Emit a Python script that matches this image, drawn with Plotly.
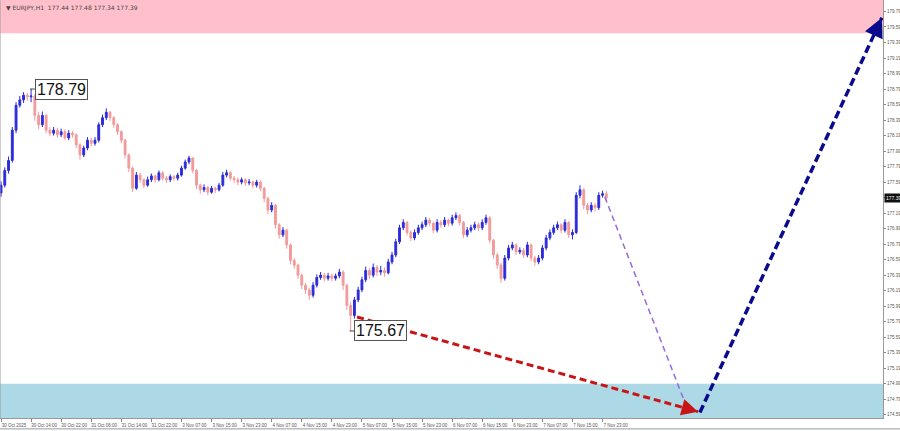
import plotly.graph_objects as go

# EURJPY H1 closes, highs, lows
first_open = 177.45
closes = [
    177.55, 177.74, 177.87, 178.26, 178.58, 178.65, 178.71, 178.69, 178.70, 178.45,
    178.33, 178.45, 178.26, 178.22, 178.26, 178.20, 178.24, 178.16, 178.22, 178.20,
    178.07, 177.94, 178.03, 178.13, 178.09, 178.13, 178.33, 178.42, 178.49, 178.42,
    178.33, 178.24, 178.13, 177.94, 177.77, 177.51, 177.68, 177.62, 177.55, 177.62,
    177.67, 177.62, 177.71, 177.64, 177.62, 177.66, 177.64, 177.68, 177.77, 177.85,
    177.90, 177.74, 177.55, 177.49, 177.52, 177.46, 177.51, 177.49, 177.55, 177.68,
    177.71, 177.64, 177.62, 177.59, 177.62, 177.58, 177.59, 177.55, 177.59, 177.51,
    177.38, 177.23, 177.29, 177.04, 176.91, 176.97, 176.78, 176.58, 176.52, 176.39,
    176.26, 176.20, 176.13, 176.26, 176.36, 176.39, 176.35, 176.38, 176.35, 176.38,
    176.43, 176.26, 176.00, 175.87, 176.07, 176.20, 176.33, 176.45, 176.39, 176.49,
    176.43, 176.45, 176.42, 176.56, 176.65, 176.82, 177.00, 177.07, 176.94, 176.87,
    176.94, 177.00, 177.04, 177.10, 177.06, 176.97, 177.07, 177.04, 177.10, 177.06,
    177.13, 177.16, 177.07, 176.91, 176.97, 177.00, 177.04, 177.00, 177.07, 177.13,
    176.84, 176.65, 176.52, 176.35, 176.61, 176.74, 176.78, 176.69, 176.71, 176.65,
    176.78, 176.61, 176.56, 176.61, 176.74, 176.87, 176.94, 177.00, 177.04, 176.97,
    177.07, 176.91, 176.94, 177.42, 177.49, 177.29, 177.23, 177.29, 177.26, 177.42,
    177.44, 177.39,
]
highs = [
    177.60, 177.78, 177.92, 178.30, 178.62, 178.70, 178.75, 178.74, 178.79, 178.72,
    178.50, 178.50, 178.47, 178.30, 178.30, 178.29, 178.28, 178.27, 178.26, 178.25,
    178.22, 178.09, 178.06, 178.17, 178.16, 178.17, 178.36, 178.46, 178.54, 178.51,
    178.44, 178.35, 178.26, 178.15, 177.96, 177.79, 177.72, 177.71, 177.64, 177.66,
    177.70, 177.69, 177.74, 177.73, 177.67, 177.69, 177.68, 177.71, 177.80, 177.88,
    177.93, 177.91, 177.76, 177.57, 177.56, 177.54, 177.54, 177.53, 177.58, 177.72,
    177.75, 177.73, 177.67, 177.65, 177.65, 177.64, 177.63, 177.61, 177.62, 177.61,
    177.53, 177.40, 177.33, 177.31, 177.06, 177.01, 176.99, 176.80, 176.61, 176.54,
    176.41, 176.29, 176.23, 176.30, 176.40, 176.43, 176.42, 176.42, 176.41, 176.41,
    176.47, 176.45, 176.28, 176.04, 176.11, 176.24, 176.37, 176.50, 176.48, 176.54,
    176.52, 176.51, 176.49, 176.60, 176.69, 176.86, 177.04, 177.11, 177.09, 176.97,
    176.98, 177.04, 177.08, 177.14, 177.13, 177.08, 177.11, 177.10, 177.14, 177.12,
    177.17, 177.20, 177.18, 177.09, 177.01, 177.04, 177.08, 177.07, 177.11, 177.17,
    177.15, 176.86, 176.68, 176.55, 176.65, 176.78, 176.82, 176.80, 176.75, 176.74,
    176.82, 176.80, 176.64, 176.65, 176.78, 176.91, 176.98, 177.04, 177.08, 177.06,
    177.11, 177.09, 176.98, 177.46, 177.55, 177.51, 177.32, 177.33, 177.32, 177.46,
    177.48, 177.48,
]
lows = [
    177.40, 177.52, 177.70, 177.84, 178.22, 178.55, 178.61, 178.64, 178.62, 178.38,
    178.27, 178.30, 178.22, 178.18, 178.19, 178.16, 178.17, 178.13, 178.13, 178.16,
    178.03, 177.88, 177.91, 178.00, 178.05, 178.06, 178.10, 178.30, 178.39, 178.38,
    178.29, 178.20, 178.09, 177.90, 177.72, 177.46, 177.49, 177.58, 177.51, 177.53,
    177.59, 177.58, 177.60, 177.61, 177.58, 177.59, 177.61, 177.61, 177.66, 177.75,
    177.82, 177.70, 177.50, 177.44, 177.46, 177.42, 177.44, 177.45, 177.47, 177.53,
    177.65, 177.61, 177.58, 177.55, 177.56, 177.54, 177.55, 177.51, 177.52, 177.47,
    177.33, 177.18, 177.20, 176.99, 176.86, 176.88, 176.73, 176.53, 176.47, 176.34,
    176.21, 176.15, 176.07, 176.10, 176.23, 176.33, 176.31, 176.32, 176.31, 176.32,
    176.35, 176.20, 175.94, 175.67, 175.83, 176.04, 176.17, 176.30, 176.34, 176.36,
    176.38, 176.39, 176.37, 176.40, 176.53, 176.62, 176.79, 176.97, 176.90, 176.83,
    176.84, 176.91, 176.97, 177.01, 177.02, 176.93, 176.94, 177.00, 177.01, 177.02,
    177.03, 177.10, 177.03, 176.87, 176.88, 176.94, 176.97, 176.96, 176.97, 177.04,
    176.80, 176.60, 176.47, 176.29, 176.32, 176.58, 176.71, 176.65, 176.66, 176.61,
    176.62, 176.57, 176.51, 176.53, 176.58, 176.71, 176.84, 176.91, 176.97, 176.93,
    176.94, 176.87, 176.85, 176.92, 177.38, 177.24, 177.18, 177.20, 177.21, 177.23,
    177.39, 177.34,
]
opens = [first_open] + closes[:-1]
bars = list(range(len(closes)))

time_labels = [
    "30 Oct 2025", "30 Oct 14:00", "30 Oct 22:00", "31 Oct 06:00", "31 Oct 14:00",
    "31 Oct 22:00", "3 Nov 07:00", "3 Nov 15:00", "3 Nov 23:00", "4 Nov 07:00",
    "4 Nov 15:00", "4 Nov 23:00", "5 Nov 07:00", "5 Nov 15:00", "5 Nov 23:00",
    "6 Nov 07:00", "6 Nov 15:00", "6 Nov 23:00", "7 Nov 07:00", "7 Nov 15:00",
    "7 Nov 23:00",
]
time_label_bars = [8 * k for k in range(len(time_labels))]

price_ticks = [
    174.59, 174.79, 174.99, 175.19, 175.39, 175.59, 175.79, 175.99, 176.19, 176.39,
    176.59, 176.79, 176.99, 177.19, 177.39, 177.59, 177.79, 177.99, 178.19, 178.39,
    178.59, 178.79, 178.99, 179.19, 179.39, 179.59, 179.79,
]

y_range = [174.548, 179.938]
x_range = [-0.27, 234.6]

resistance_zone = [179.51, 179.938]
support_zone = [174.548, 174.99]

wave_high = (8, 178.79)
wave_low = (93, 175.67)
last_price = 177.39
header = "\u25bc EURJPY,H1  177.44 177.48 177.34 177.39"

# forecast paths: (bar, price)
red_path = [(94.7, 175.85), (185.4, 174.63)]
purple_path = [(160.6, 177.40), (182.7, 174.65)]
navy_path = [(185.9, 174.62), (234.3, 179.71)]

fig = go.Figure()

fig.add_trace(go.Candlestick(
    x=bars, open=opens, high=highs, low=lows, close=closes,
    increasing=dict(line=dict(color="#2b2bd9", width=1), fillcolor="#2b2bd9"),
    decreasing=dict(line=dict(color="#f29a9a", width=1), fillcolor="#f29a9a"),
    whiskerwidth=0,
    showlegend=False,
))

# zones
fig.add_shape(type="rect", xref="paper", yref="y", x0=0, x1=1,
              y0=resistance_zone[0], y1=resistance_zone[1],
              fillcolor="#ffc0cb", line_width=0, layer="below")
fig.add_shape(type="rect", xref="paper", yref="y", x0=0, x1=1,
              y0=support_zone[0], y1=support_zone[1],
              fillcolor="#add8e6", line_width=0, layer="below")


def dashed_arrow(path, color, width, dash, head=True):
    (x0, y0), (x1, y1) = path
    fig.add_shape(type="line", xref="x", yref="y", x0=x0, y0=y0, x1=x1, y1=y1,
                  line=dict(color=color, width=width, dash=dash))
    if head:
        t = 0.96
        fig.add_annotation(x=x1, y=y1, ax=x0 + (x1 - x0) * t, ay=y0 + (y1 - y0) * t,
                           xref="x", yref="y", axref="x", ayref="y", text="",
                           showarrow=True, arrowhead=2, arrowsize=1.1,
                           arrowwidth=width, arrowcolor=color, standoff=0)


dashed_arrow(red_path, "#c81414", 3, "7px,4px")
dashed_arrow(purple_path, "#9a6ad8", 1.5, "6px,4px", head=False)
dashed_arrow(navy_path, "#0a0a8c", 3.5, "8px,4px")

# wave labels
for (bx, price) in [wave_high, wave_low]:
    fig.add_shape(type="line", xref="x", yref="y", x0=bx - 0.3, x1=bx + 1.0,
                  y0=price, y1=price, line=dict(color="#444", width=1))
    fig.add_annotation(x=bx + 1.0, y=price, xref="x", yref="y", text=f"{price:.2f}",
                       showarrow=False, xanchor="left", yanchor="middle",
                       font=dict(family="Liberation Sans", size=16, color="#111"),
                       bgcolor="white", bordercolor="#555", borderwidth=1, borderpad=1)

# current price tag
fig.add_annotation(x=1, y=last_price, xref="paper", yref="y", text=f"{last_price:.2f}",
                   showarrow=False, xanchor="left", yanchor="middle", xshift=1,
                   font=dict(family="Liberation Sans", size=5, color="white"),
                   bgcolor="#111", borderpad=1)

fig.add_annotation(x=0.004, y=0.995, xref="paper", yref="paper", text=header,
                   showarrow=False, xanchor="left", yanchor="top",
                   font=dict(family="DejaVu Sans", size=6, color="#444"))

# frame lines
fig.add_shape(type="line", xref="paper", yref="paper", x0=0, x1=0, y0=0, y1=1,
              line=dict(color="#999", width=1))
fig.add_shape(type="line", xref="paper", yref="paper", x0=0, x1=1.02, y0=-0.026, y1=-0.026,
              line=dict(color="#999", width=1))

fig.update_layout(
    width=900, height=431,
    margin=dict(l=0, r=17, t=0, b=13, pad=0),
    plot_bgcolor="white", paper_bgcolor="white",
    showlegend=False,
    xaxis=dict(
        range=x_range, rangeslider=dict(visible=False), automargin=False,
        tickvals=time_label_bars, ticktext=time_labels, tickangle=0,
        ticks="outside", ticklen=3, tickcolor="#888",
        showline=True, linecolor="#999", showgrid=False, zeroline=False,
        tickfont=dict(family="Liberation Sans", size=4.5, color="#555"),
        ticklabelshift=13, ticklabelstandoff=0, ticklabeloverflow="allow",
    ),
    yaxis=dict(
        range=y_range, side="right", automargin=False,
        tickvals=price_ticks, ticktext=[f"{p:.2f}" for p in price_ticks],
        ticks="outside", ticklen=2, tickcolor="#888",
        showline=True, linecolor="#999", showgrid=False, zeroline=False,
        tickfont=dict(family="Liberation Sans", size=4.5, color="#555"),
        ticklabelstandoff=0,
    ),
)

# browser default body margin would shift the chart by 8px
fig.write_html("out.html", config={"displayModeBar": False},
               post_script="document.body.style.margin='0';")
